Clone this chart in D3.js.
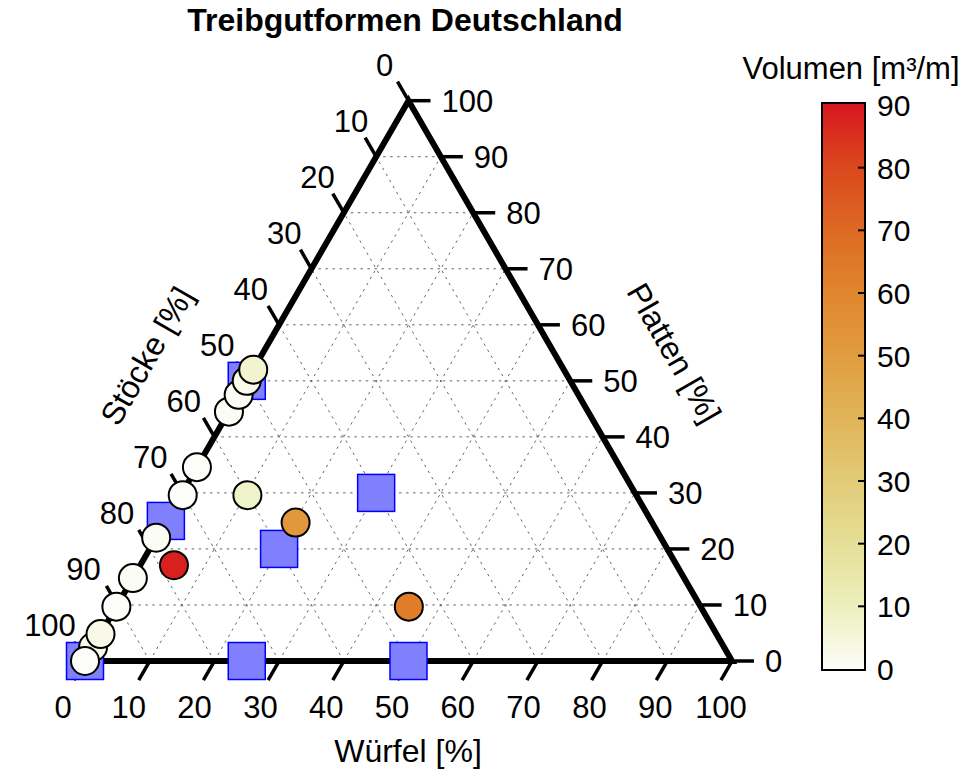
<!DOCTYPE html>
<html>
<head>
<meta charset="utf-8">
<script src="https://cdn.jsdelivr.net/npm/d3@7"></script>
<style>
  body { margin: 0; background: #fff; }
  svg { display: block; font-family: "Liberation Sans", Arial, sans-serif; }
</style>
</head>
<body>
<svg id="chart" width="976" height="774"></svg>
<script>
// Ternary composition of drift material: Würfel (cubes), Platten (slabs), Stöcke (sticks)
// Reference samples (squares)
const refWuerfel = [0, 25, 50, 0, 0, 20, 30];
const refPlatten = [0, 0, 0, 50, 25, 20, 30];

// Measured samples (circles), coloured by volume
const sampleWuerfel = [0, 0, 0, 0, 0, 0, 0.3, 5.2, 0, 0, 0, 0, 0, 10.3, 20.2, 45.2];
const samplePlatten = [2.5, 44.5, 47.5, 50, 52, 34.6, 29.6, 17.1, 22, 14.8, 9.7, 4.8, 0, 29.6, 24.7, 9.7];
const sampleVolumen = [3, 1, 1, 2, 7, 0, 0, 88, 1, 1, 0, 3, 0, 8, 52, 63];

const gridSteps = [10, 20, 30, 40, 50, 60, 70, 80, 90];
const tickValues = [0, 10, 20, 30, 40, 50, 60, 70, 80, 90, 100];
const colorTicks = [0, 10, 20, 30, 40, 50, 60, 70, 80, 90];
const colorStops = [0, 10, 20, 30, 40, 50, 60, 70, 80, 90];
const colorRange = ["#fdfdf9", "#ecf0bd", "#e5df98", "#e2cb76", "#e1b459", "#e19c40", "#e0852d", "#dd6923", "#da471e", "#d7171f"];

const svg = d3.select("#chart");

// Triangle geometry
const left = [85, 661];
const side = 647;
const height = side * Math.sqrt(3) / 2;

// Scales: horizontal position from (W + P/2), vertical from P
const xScale = d3.scaleLinear().domain([0, 100]).range([left[0], left[0] + side]);
const yScale = d3.scaleLinear().domain([0, 100]).range([left[1], left[1] - height]);
const project = (w, p) => [xScale(w + p / 2), yScale(p)];

const color = d3.scaleLinear().domain(colorStops).range(colorRange).clamp(true);

const fs = 31;

// Title
svg.append("text")
  .attr("x", 405).attr("y", 31)
  .attr("text-anchor", "middle")
  .attr("font-size", 32).attr("font-weight", "bold")
  .text("Treibgutformen Deutschland");

// Grid lines (dotted)
const grid = svg.append("g")
  .attr("stroke", "#666").attr("stroke-width", 1)
  .attr("stroke-dasharray", "2.5,4.5").attr("fill", "none");
gridSteps.forEach(v => {
  // constant Platten: horizontal
  let a = project(0, v), b = project(100 - v, v);
  grid.append("line").attr("x1", a[0]).attr("y1", a[1]).attr("x2", b[0]).attr("y2", b[1]);
  // constant Würfel: parallel to left edge
  a = project(v, 0); b = project(v, 100 - v);
  grid.append("line").attr("x1", a[0]).attr("y1", a[1]).attr("x2", b[0]).attr("y2", b[1]);
  // constant Stöcke: parallel to right edge
  a = project(100 - v, 0); b = project(0, 100 - v);
  grid.append("line").attr("x1", a[0]).attr("y1", a[1]).attr("x2", b[0]).attr("y2", b[1]);
});

// Ticks
const tickLen = 22;
const c60 = Math.cos(Math.PI / 3), s60 = Math.sin(Math.PI / 3);
const ticks = svg.append("g").attr("stroke", "#000").attr("stroke-width", 3.5);
const labels = svg.append("g").attr("font-size", fs).attr("fill", "#000");

tickValues.forEach(v => {
  // Würfel along the bottom edge
  let p = project(v, 0);
  ticks.append("line").attr("x1", p[0]).attr("y1", p[1])
    .attr("x2", p[0] - tickLen * c60).attr("y2", p[1] + tickLen * s60);
  labels.append("text").attr("x", p[0] - 22 + 0.11 * v).attr("y", p[1] + 57)
    .attr("text-anchor", "middle").text(v);

  // Platten along the right edge
  p = project(100 - v, v);
  ticks.append("line").attr("x1", p[0]).attr("y1", p[1])
    .attr("x2", p[0] + tickLen).attr("y2", p[1]);
  labels.append("text").attr("x", p[0] + tickLen + 11).attr("y", p[1] + 11)
    .attr("text-anchor", "start").text(v);

  // Stöcke along the left edge (0 at top)
  p = project(0, 100 - v);
  ticks.append("line").attr("x1", p[0]).attr("y1", p[1])
    .attr("x2", p[0] - tickLen * c60).attr("y2", p[1] - tickLen * s60);
  labels.append("text").attr("x", p[0] - 24 - 0.11 * v).attr("y", p[1] - 25)
    .attr("text-anchor", "middle").text(v);
});

// Triangle outline
const corners = [project(0, 0), project(100, 0), project(0, 100)];
svg.append("path")
  .attr("d", d3.line()(corners) + "Z")
  .attr("fill", "none").attr("stroke", "#000").attr("stroke-width", 6)
  .attr("stroke-linejoin", "miter");

// Axis titles
svg.append("text").attr("x", 408).attr("y", 762)
  .attr("text-anchor", "middle").attr("font-size", 32).text("Würfel [%]");
svg.append("text")
  .attr("transform", "translate(147,356) rotate(-60)")
  .attr("text-anchor", "middle").attr("dominant-baseline", "central")
  .attr("font-size", 32).text("Stöcke [%]");
svg.append("text")
  .attr("transform", "translate(674,353) rotate(60)")
  .attr("text-anchor", "middle").attr("dominant-baseline", "central")
  .attr("font-size", 32).text("Platten [%]");

// Reference squares
const sq = 37;
svg.append("g").selectAll("rect")
  .data(refWuerfel.map((w, i) => project(w, refPlatten[i])))
  .join("rect")
  .attr("x", d => d[0] - sq / 2).attr("y", d => d[1] - sq / 2)
  .attr("width", sq).attr("height", sq)
  .attr("fill", "#8080ff").attr("stroke", "#0000ff").attr("stroke-width", 1.5);

// Sample circles
svg.append("g").selectAll("circle")
  .data(sampleWuerfel.map((w, i) => ({ pos: project(w, samplePlatten[i]), vol: sampleVolumen[i] })))
  .join("circle")
  .attr("cx", d => d.pos[0]).attr("cy", d => d.pos[1]).attr("r", 14)
  .attr("fill", d => color(d.vol))
  .attr("stroke", "#000").attr("stroke-width", 2);

// Colour bar
const cb = { x: 822, w: 43, top: 103, bottom: 670 };
const cScale = d3.scaleLinear().domain([0, 90]).range([cb.bottom - 1, cb.top + 2]);
const defs = svg.append("defs");
const grad = defs.append("linearGradient").attr("id", "volGrad")
  .attr("x1", 0).attr("y1", 1).attr("x2", 0).attr("y2", 0);
grad.selectAll("stop").data(colorStops).join("stop")
  .attr("offset", d => d / 90)
  .attr("stop-color", d => color(d));
svg.append("rect")
  .attr("x", cb.x).attr("y", cb.top).attr("width", cb.w).attr("height", cb.bottom - cb.top)
  .attr("fill", "url(#volGrad)").attr("stroke", "#000").attr("stroke-width", 2);

const cAxis = svg.append("g");
cAxis.selectAll("line").data(colorTicks.filter(v => v > 0 && v < 90)).join("line")
  .attr("x1", cb.x + cb.w - 7).attr("x2", cb.x + cb.w)
  .attr("y1", d => cScale(d)).attr("y2", d => cScale(d))
  .attr("stroke", "#000").attr("stroke-width", 2);
cAxis.selectAll("text").data(colorTicks).join("text")
  .attr("x", cb.x + cb.w + 12).attr("y", d => cScale(d) + 11)
  .attr("font-size", 30).text(d => d);

svg.append("text").attr("x", 851).attr("y", 79)
  .attr("text-anchor", "middle").attr("font-size", 31).text("Volumen [m³/m]");
</script>
</body>
</html>
